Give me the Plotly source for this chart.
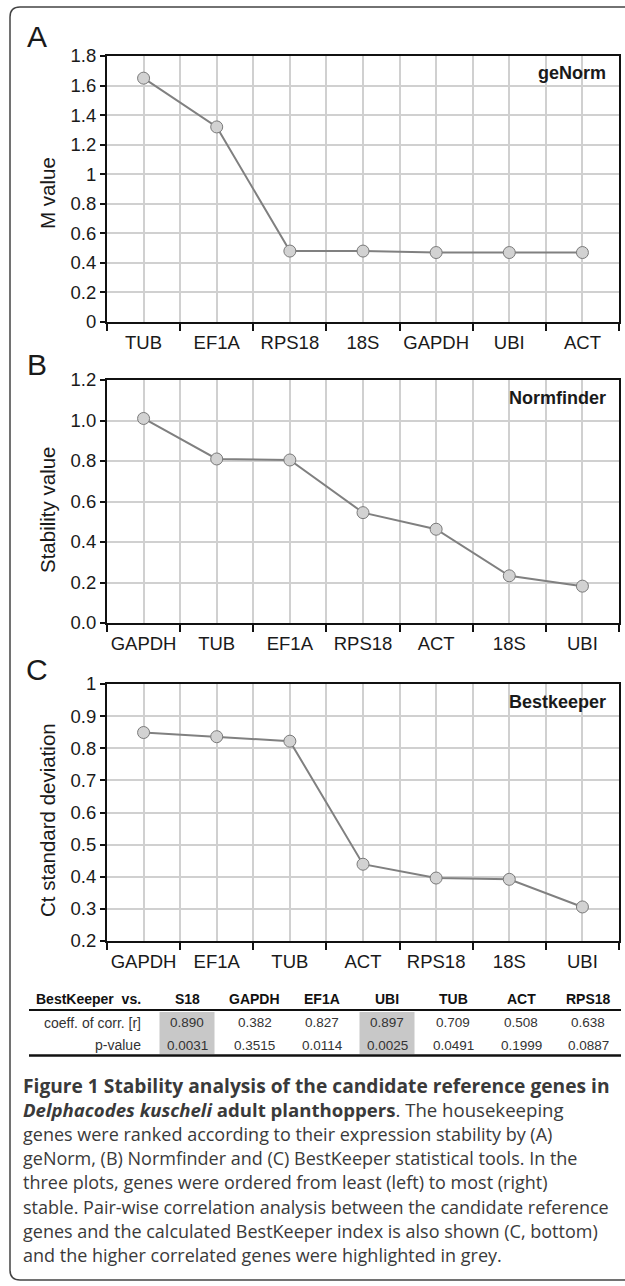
import plotly.graph_objects as go

W, H = 625, 1286

# ---------------- data ----------------
genes_a = ["TUB", "EF1A", "RPS18", "18S", "GAPDH", "UBI", "ACT"]
m_values = [1.65, 1.32, 0.48, 0.48, 0.47, 0.47, 0.47]

genes_b = ["GAPDH", "TUB", "EF1A", "RPS18", "ACT", "18S", "UBI"]
stability_values = [1.01, 0.81, 0.805, 0.545, 0.463, 0.233, 0.182]

genes_c = ["GAPDH", "EF1A", "TUB", "ACT", "RPS18", "18S", "UBI"]
ct_sd = [0.849, 0.836, 0.822, 0.439, 0.396, 0.392, 0.306]

table_genes = ["S18", "GAPDH", "EF1A", "UBI", "TUB", "ACT", "RPS18"]
corr_r = [0.890, 0.382, 0.827, 0.897, 0.709, 0.508, 0.638]
p_values = [0.0031, 0.3515, 0.0114, 0.0025, 0.0491, 0.1999, 0.0887]
highlighted = ["S18", "UBI"]

caption_lines = [
    "<b>Figure 1 Stability analysis of the candidate reference genes in</b>",
    "<b><i>Delphacodes kuscheli</i> adult planthoppers</b>. The housekeeping",
    "genes were ranked according to their expression stability by (A)",
    "geNorm, (B) Normfinder and (C) BestKeeper statistical tools. In the",
    "three plots, genes were ordered from least (left) to most (right)",
    "stable. Pair-wise correlation analysis between the candidate reference",
    "genes and the calculated BestKeeper index is also shown (C, bottom)",
    "and the higher correlated genes were highlighted in grey.",
]
caption_sizes = [19.2, 18.6, 18, 18, 18, 18, 18, 18]

# ---------------- helpers ----------------
def fx(px):
    return px / W

def fy(py):
    return 1 - py / H

ARIAL = "Liberation Sans, Arial, sans-serif"
GRID = "#d0d0d0"
AX = "#111111"
TICK_SIZE = 18.5

panels = [
    dict(genes=genes_a, vals=m_values, top=56, bot=322, rng=[0, 1.8], dtick=0.2,
         fmt="", title="M value", title_y=193, method="geNorm", method_y=73,
         letter="A", letter_y=36),
    dict(genes=genes_b, vals=stability_values, top=380, bot=623, rng=[0, 1.2], dtick=0.2,
         fmt=".1f", title="Stability value", title_y=510, method="Normfinder", method_y=398,
         letter="B", letter_y=365),
    dict(genes=genes_c, vals=ct_sd, top=684, bot=941, rng=[0.2, 1.0], dtick=0.1,
         fmt="", title="Ct standard deviation", title_y=820, method="Bestkeeper", method_y=702,
         letter="C", letter_y=669),
]

PL, PR = 107, 619

fig = go.Figure()
annotations = []
shapes = []
layout_axes = {}

for i, p in enumerate(panels):
    s = "" if i == 0 else str(i + 1)
    n = len(p["genes"])
    fig.add_trace(go.Scatter(
        x=list(range(n)), y=p["vals"], mode="lines+markers",
        line=dict(color="#808080", width=2),
        marker=dict(size=12, color="#d2d2d2", line=dict(color="#7a7a7a", width=1)),
        xaxis="x" + s, yaxis="y" + s, showlegend=False, hoverinfo="x+y",
    ))
    layout_axes["xaxis" + s] = dict(
        domain=[fx(PL), fx(PR)], anchor="y" + s, range=[-0.5, n - 0.5],
        tickmode="array", tickvals=list(range(n)), ticktext=p["genes"],
        ticks="outside", ticklen=3, tickcolor="rgba(0,0,0,0)",
        showgrid=True, gridcolor=GRID, gridwidth=1.5,
        showline=True, linecolor=AX, linewidth=2, mirror=True, zeroline=False,
        tickfont=dict(family=ARIAL, size=TICK_SIZE, color="#1a1a1a"),
        minor=dict(tickmode="linear", tick0=-0.5, dtick=1, ticks="outside",
                   ticklen=7, tickwidth=2, tickcolor=AX,
                   showgrid=True, gridcolor=GRID, gridwidth=1.5),
        fixedrange=True, automargin=False,
    )
    layout_axes["yaxis" + s] = dict(
        domain=[fy(p["bot"]), fy(p["top"])], anchor="x" + s, range=p["rng"],
        tickmode="linear", tick0=p["rng"][0], dtick=p["dtick"], tickformat=p["fmt"],
        ticks="outside", ticklen=5, tickwidth=1.5, tickcolor=AX,
        showgrid=True, gridcolor=GRID, gridwidth=1.5,
        showline=True, linecolor=AX, linewidth=2, mirror=True, zeroline=False,
        tickfont=dict(family=ARIAL, size=TICK_SIZE, color="#1a1a1a"),
        fixedrange=True, automargin=False,
    )
    annotations.append(dict(
        text=p["title"], x=fx(47), y=fy(p["title_y"]), xref="paper", yref="paper",
        textangle=-90, showarrow=False, xanchor="center", yanchor="middle",
        font=dict(family=ARIAL, size=20.5, color="#1a1a1a"),
    ))
    annotations.append(dict(
        text="<b>" + p["method"] + "</b>", x=fx(608), y=fy(p["method_y"]),
        xref="paper", yref="paper", showarrow=False, xanchor="right", yanchor="middle",
        font=dict(family=ARIAL, size=18, color="#1a1a1a"),
    ))
    annotations.append(dict(
        text=p["letter"], x=fx(37), y=fy(p["letter_y"]), xref="paper", yref="paper",
        showarrow=False, xanchor="center", yanchor="middle",
        font=dict(family=ARIAL, size=30, color="#1a1a1a"),
    ))

# ---------------- table ----------------
col_x = [187, 255, 322, 387, 453, 521, 588]
header_y, row1_y, row2_y = 999, 1022.5, 1045
line1_y, line2_y = 1010, 1055.5

for g, cx in zip(table_genes, col_x):
    if g in highlighted:
        shapes.append(dict(type="rect", xref="paper", yref="paper",
                           x0=fx(cx - 27.5), x1=fx(cx + 27.5), y0=fy(1054), y1=fy(1012),
                           fillcolor="#c8c8c8", line=dict(width=0), layer="below"))

shapes.append(dict(type="line", xref="paper", yref="paper", x0=fx(29), x1=fx(621),
                   y0=fy(line1_y), y1=fy(line1_y), line=dict(color="#111", width=2)))
shapes.append(dict(type="line", xref="paper", yref="paper", x0=fx(29), x1=fx(621),
                   y0=fy(line2_y), y1=fy(line2_y), line=dict(color="#111", width=2.5)))

annotations.append(dict(text="<b>BestKeeper  vs.</b>", x=fx(143), y=fy(header_y),
                        xref="paper", yref="paper", showarrow=False, xanchor="right",
                        yanchor="middle", font=dict(family=ARIAL, size=14, color="#111")))
annotations.append(dict(text="coeff. of corr. [r]", x=fx(143), y=fy(row1_y),
                        xref="paper", yref="paper", showarrow=False, xanchor="right",
                        yanchor="middle", font=dict(family=ARIAL, size=14, color="#333")))
annotations.append(dict(text="p-value", x=fx(143), y=fy(row2_y),
                        xref="paper", yref="paper", showarrow=False, xanchor="right",
                        yanchor="middle", font=dict(family=ARIAL, size=14, color="#333")))

for g, r, pv, cx in zip(table_genes, corr_r, p_values, col_x):
    annotations.append(dict(text="<b>" + g + "</b>", x=fx(cx), y=fy(header_y),
                            xref="paper", yref="paper", showarrow=False, xanchor="center",
                            yanchor="middle", font=dict(family=ARIAL, size=14, color="#111")))
    annotations.append(dict(text=f"{r:.3f}", x=fx(cx), y=fy(row1_y),
                            xref="paper", yref="paper", showarrow=False, xanchor="center",
                            yanchor="middle", font=dict(family=ARIAL, size=13.5, color="#333")))
    annotations.append(dict(text=f"{pv:.4f}", x=fx(cx), y=fy(row2_y),
                            xref="paper", yref="paper", showarrow=False, xanchor="center",
                            yanchor="middle", font=dict(family=ARIAL, size=13.5, color="#333")))

# ---------------- caption ----------------
for k, (line, sz) in enumerate(zip(caption_lines, caption_sizes)):
    annotations.append(dict(text=line, x=fx(21), y=fy(1085 + 24.3 * k),
                            xref="paper", yref="paper", showarrow=False, xanchor="left",
                            yanchor="middle", align="left",
                            font=dict(family="Open Sans, sans-serif", size=sz, color="#3a3a3a")))

# ---------------- outer rounded frame ----------------
x0, y0, x1, y1, r = 10, 7, 625, 1280, 10
frame = (f"M {fx(x1)},{fy(y0)} L {fx(x0 + r)},{fy(y0)} "
         f"Q {fx(x0)},{fy(y0)} {fx(x0)},{fy(y0 + r)} "
         f"L {fx(x0)},{fy(y1 - r)} Q {fx(x0)},{fy(y1)} {fx(x0 + r)},{fy(y1)} "
         f"L {fx(x1)},{fy(y1)}")
shapes.append(dict(type="path", xref="paper", yref="paper", path=frame,
                   line=dict(color="#444", width=1.5)))

fig.update_layout(
    width=W, height=H, margin=dict(l=0, r=0, t=0, b=0, autoexpand=False),
    paper_bgcolor="white", plot_bgcolor="white",
    annotations=annotations, shapes=shapes, showlegend=False,
    **layout_axes,
)

fig.write_html(
    "out.html",
    config={"displayModeBar": False},
    post_script=(
        "document.documentElement.style.margin='0';"
        "document.documentElement.style.overflow='hidden';"
        "document.body.style.margin='0';document.body.style.padding='0';"
        "document.body.style.overflow='hidden';"
    ),
)
